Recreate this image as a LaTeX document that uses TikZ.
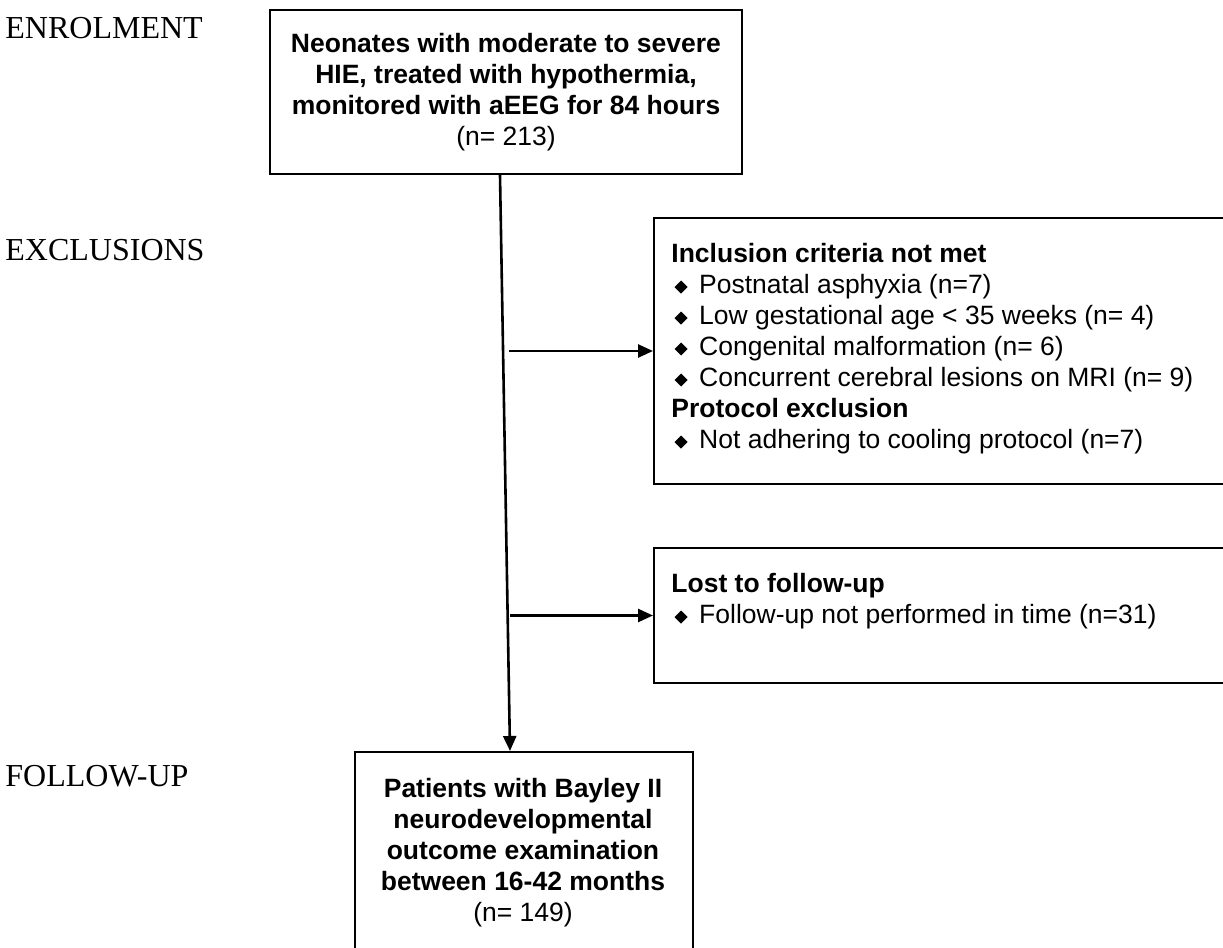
\documentclass[tikz,border=0pt]{standalone}
\usepackage{fontspec}
\setmainfont{Liberation Sans}
\newfontfamily\tnr{Liberation Serif}
\usetikzlibrary{arrows.meta,calc}
\newcommand{\dmd}{\hspace*{1.6pt}\raisebox{0pt}{\rotatebox{45}{\rule{4.6pt}{4.6pt}}}\hspace{5.8pt}}
\begin{document}
\begin{tikzpicture}[x=0.5pt,y=-0.5pt,
  box/.style={draw, line width=1pt, inner sep=0pt},
  conn/.style={line width=1.3pt, -{Triangle[length=7.5pt,width=6.5pt]}},
  lbl/.style={anchor=base west, inner sep=0pt, font=\tnr\fontsize{16}{19}\selectfont},
  txt/.style={inner sep=0pt, font=\fontsize{13.25}{15.5}\selectfont}]
\useasboundingbox (0,0) rectangle (1223,948);
\clip (0,0) rectangle (1223,948);

\node[lbl] (l1) at (5,38) {ENROLMENT};
\node[lbl] (l2) at (5,260) {EXCLUSIONS};
\node[lbl] (l3) at (5,786) {FOLLOW-UP};

\node[box, txt, minimum width=236pt, minimum height=82pt, anchor=north west, align=center] (top) at (269,9)
  {\textbf{Neonates with moderate to severe}\\\textbf{HIE, treated with hypothermia,}\\\textbf{monitored with aEEG for 84 hours}\\(n= 213)};

\node[box, minimum width=293.5pt, minimum height=133pt, anchor=north west] (ex1) at (653,217) {};
\node[txt, anchor=north west, align=left] (ex1t) at (671,243)
  {\textbf{Inclusion criteria not met}\\
   \dmd Postnatal asphyxia (n=7)\\
   \dmd Low gestational age < 35 weeks (n= 4)\\
   \dmd Congenital malformation (n= 6)\\
   \dmd Concurrent cerebral lesions on MRI (n= 9)\\
   \textbf{Protocol exclusion}\\
   \dmd Not adhering to cooling protocol (n=7)};

\node[box, minimum width=293.5pt, minimum height=67.5pt, anchor=north west] (ex2) at (653,547) {};
\node[txt, anchor=north west, align=left] (ex2t) at (671,573)
  {\textbf{Lost to follow-up}\\
   \dmd Follow-up not performed in time (n=31)};

\node[box, minimum width=169pt, minimum height=110pt, anchor=north west] (bot) at (354,751) {};
\node[txt, anchor=north, align=center] (bott) at (523,778)
  {\textbf{Patients with Bayley II}\\\textbf{neurodevelopmental}\\\textbf{outcome examination}\\\textbf{between 16-42 months}\\(n= 149)};

\coordinate (v1) at ([xshift=-3pt]top.south);
\coordinate (v2) at ([xshift=-7pt]bot.north);
\draw[conn] (v1) -- (v2);
\coordinate (a1) at ($(ex1.west)+(-144,0)$);
\draw[conn] (a1) -- (ex1.west);
\coordinate (a2) at ($(ex2.west)+(-143,0)$);
\draw[conn] (a2) -- (ex2.west);
\end{tikzpicture}
\end{document}
